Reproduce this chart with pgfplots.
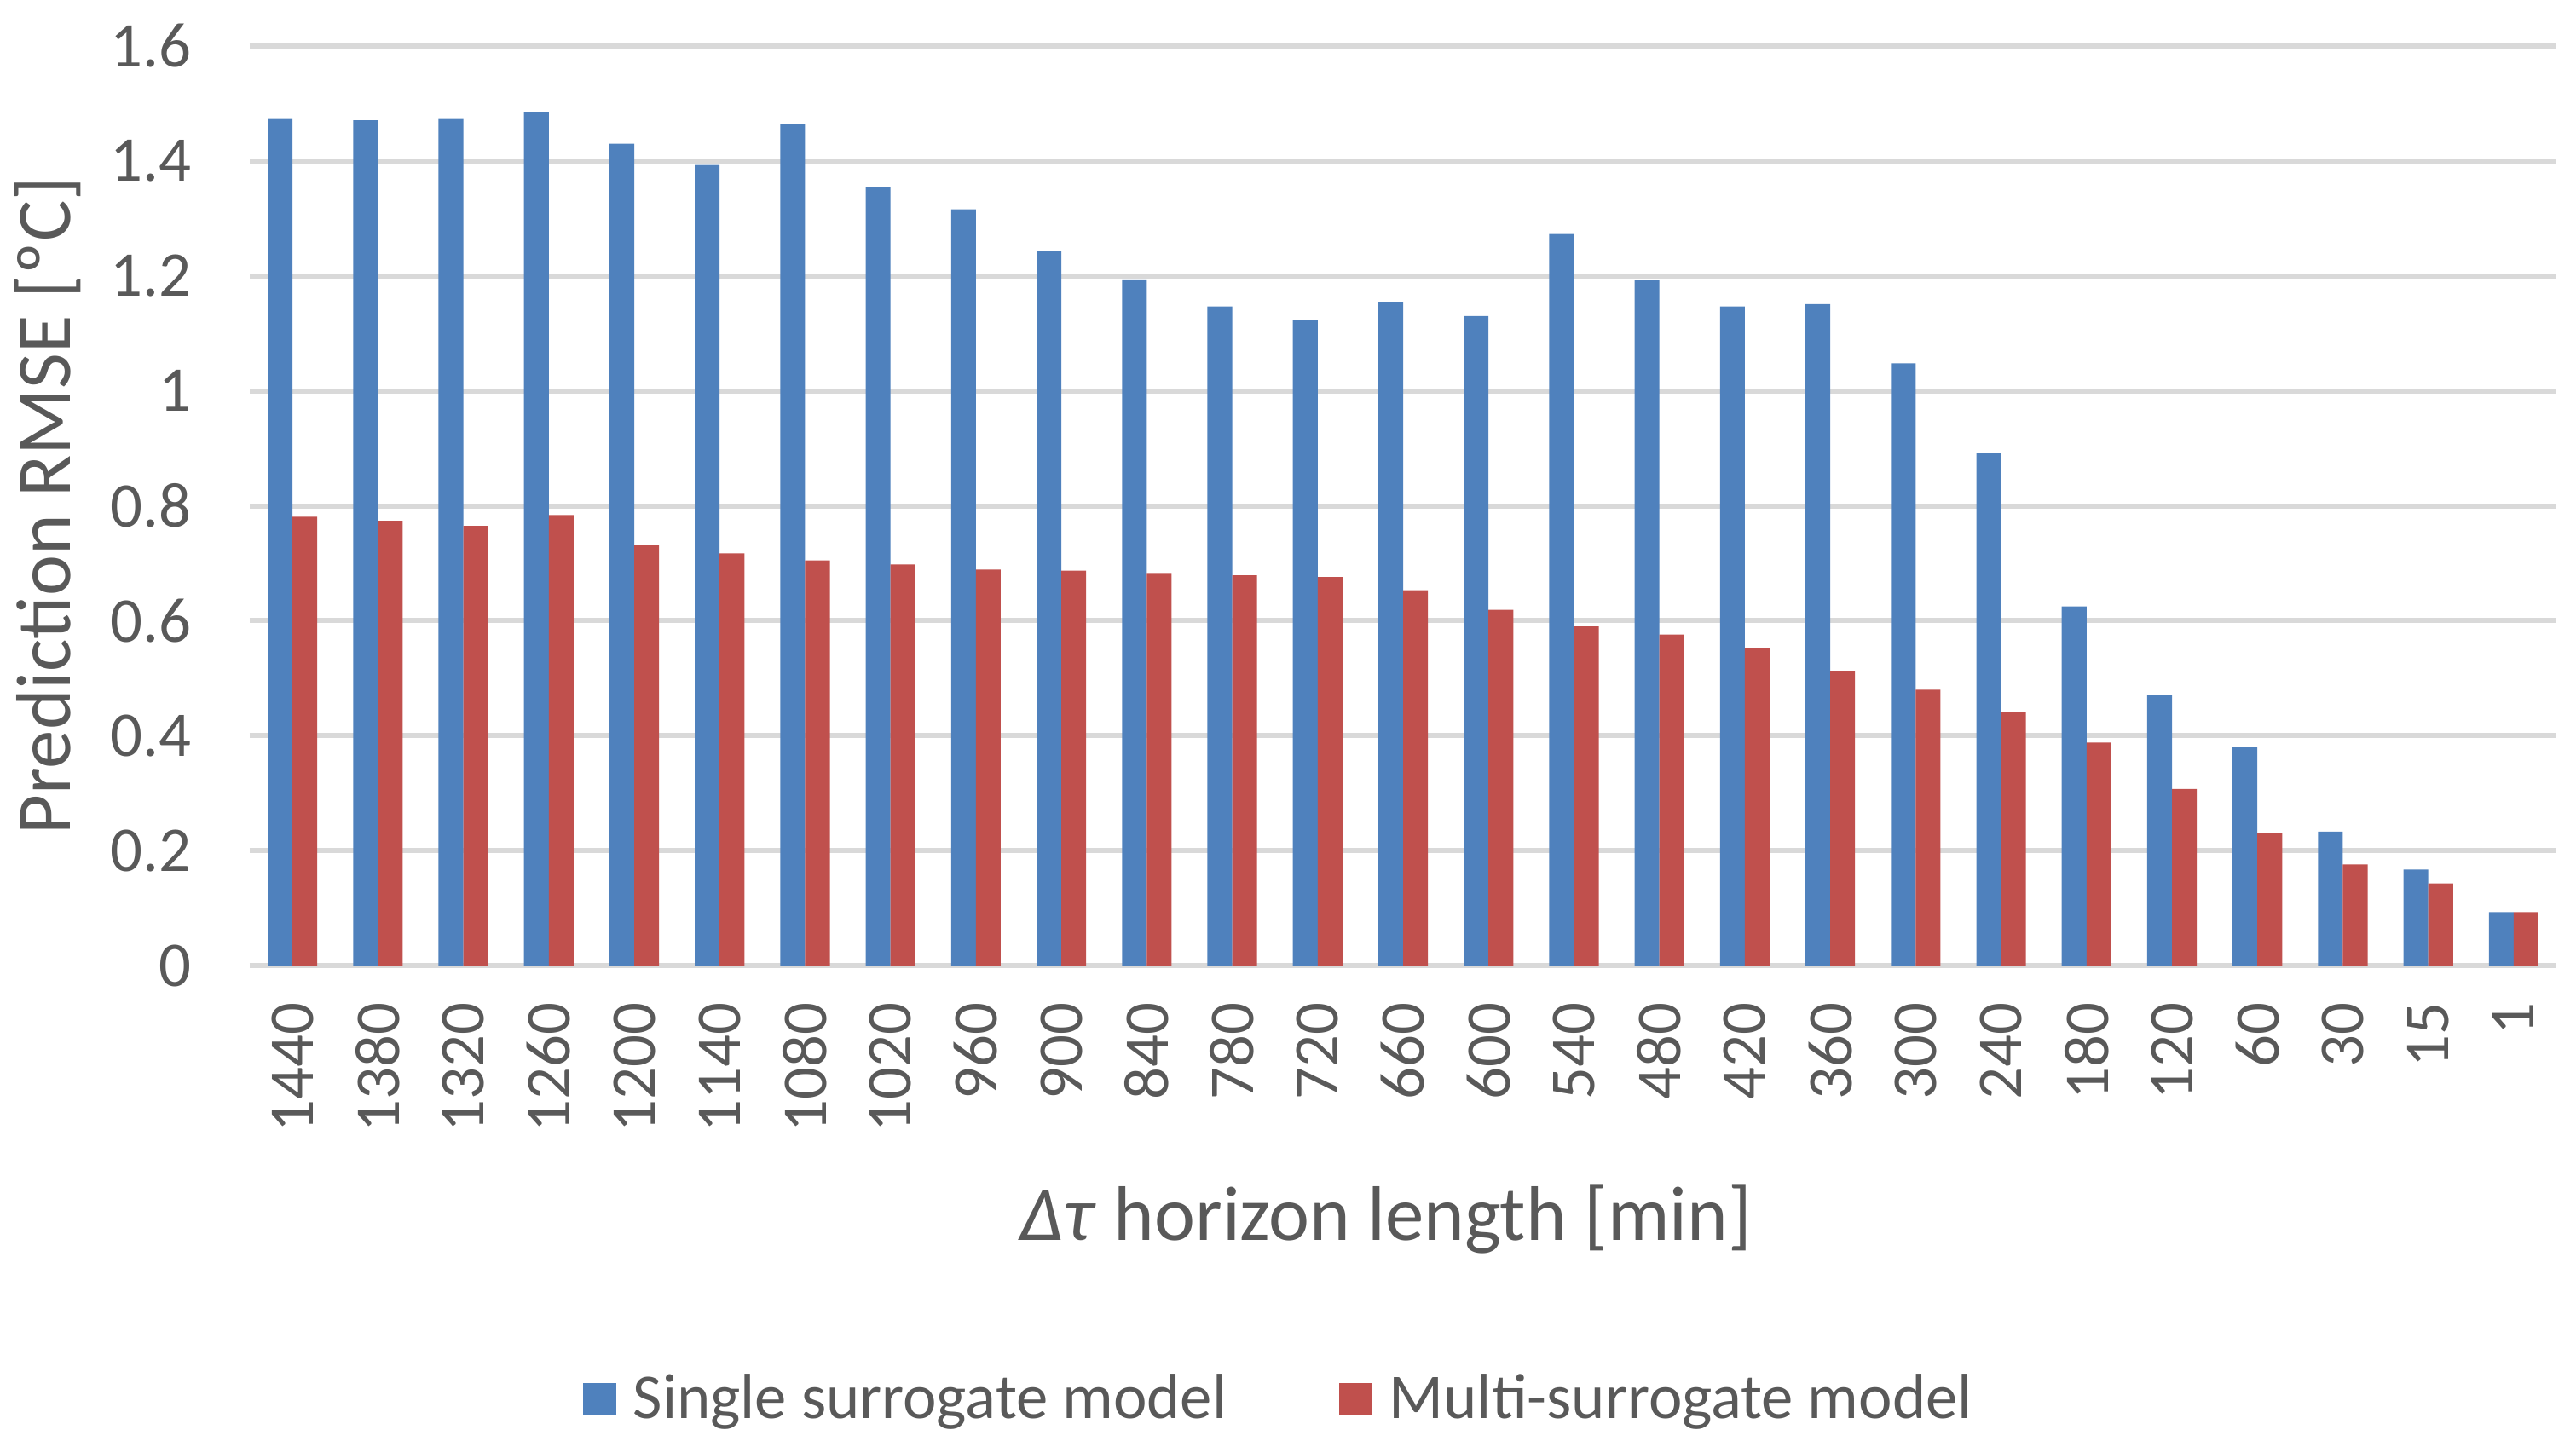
\documentclass[border=0pt]{standalone}
\usepackage{fontspec}
\setmainfont{Carlito}
\usepackage{pgfplots}
\pgfplotsset{compat=1.18}
\definecolor{sblue}{HTML}{4F81BD}
\definecolor{mred}{HTML}{C0504D}
\definecolor{txt}{HTML}{595959}
\definecolor{grd}{HTML}{D9D9D9}
\begin{document}
\begin{tikzpicture}
\begin{axis}[
  at={(73.25pt,141pt)}, anchor=south west,
  scale only axis, width=676.5pt, height=269.75pt,
  ybar=0pt, bar width=0.29,
  xmin=-0.5, xmax=26.5, ymin=0, ymax=1.6,
  xtick={0,...,26},
  xticklabels={1440,1380,1320,1260,1200,1140,1080,1020,960,900,840,780,720,660,600,540,480,420,360,300,240,180,120,60,30,15,1},
  ytick={0,0.2,0.4,0.6,0.8,1,1.2,1.4,1.6},
  ymajorgrids, grid style={grd, line width=1.5pt},
  axis line style={draw=none}, major tick length=0pt,
  tick label style={font=\fontsize{18.7}{20}\selectfont, text=txt, inner sep=0pt},
  /pgf/number format/assume math mode=true,
  xticklabel style={rotate=90, anchor=east},
  yticklabel style={anchor=east},
  xticklabel shift=10.75pt,
  yticklabel shift=17pt,
  xlabel={\textit{Δτ} horizon length [min]},
  ylabel={Prediction RMSE [ºC]},
  label style={font=\fontsize{22.7}{26}\selectfont, text=txt},
  xlabel style={at={(axis description cs:0.5,0)}, anchor=center, yshift=-74.25pt, xshift=-5pt},
  ylabel style={at={(axis description cs:0,0.5)}, anchor=center, yshift=59.25pt},
  legend style={at={(axis description cs:0.4472,-0.4717)}, anchor=center, draw=none, fill=none,
    legend columns=2, font=\fontsize{18.7}{20}\selectfont, text=txt,
    /tikz/every even column/.append style={column sep=31pt}},
  legend image code/.code={\path[#1] (0pt,-4.8pt) rectangle (9.6pt,4.8pt);},
]
\addplot[fill=sblue, draw=none] coordinates {
(0,1.473) (1,1.471) (2,1.473) (3,1.484) (4,1.430) (5,1.393) (6,1.464) (7,1.355) (8,1.316)
(9,1.244) (10,1.194) (11,1.147) (12,1.123) (13,1.155) (14,1.130) (15,1.273) (16,1.193)
(17,1.147) (18,1.151) (19,1.048) (20,0.892) (21,0.625) (22,0.470) (23,0.380) (24,0.233)
(25,0.167) (26,0.093)};
\addlegendentry{\hspace{3pt}Single surrogate model}
\addplot[fill=mred, draw=none] coordinates {
(0,0.781) (1,0.774) (2,0.765) (3,0.784) (4,0.732) (5,0.717) (6,0.705) (7,0.698) (8,0.689)
(9,0.687) (10,0.683) (11,0.679) (12,0.676) (13,0.653) (14,0.619) (15,0.590) (16,0.576)
(17,0.553) (18,0.513) (19,0.480) (20,0.441) (21,0.388) (22,0.307) (23,0.230) (24,0.176)
(25,0.143) (26,0.093)};
\addlegendentry{\hspace{3pt}Multi-surrogate model}
\end{axis}
\pgfresetboundingbox
\useasboundingbox (0,0) rectangle (755.5pt,424.25pt);
\end{tikzpicture}
\end{document}
